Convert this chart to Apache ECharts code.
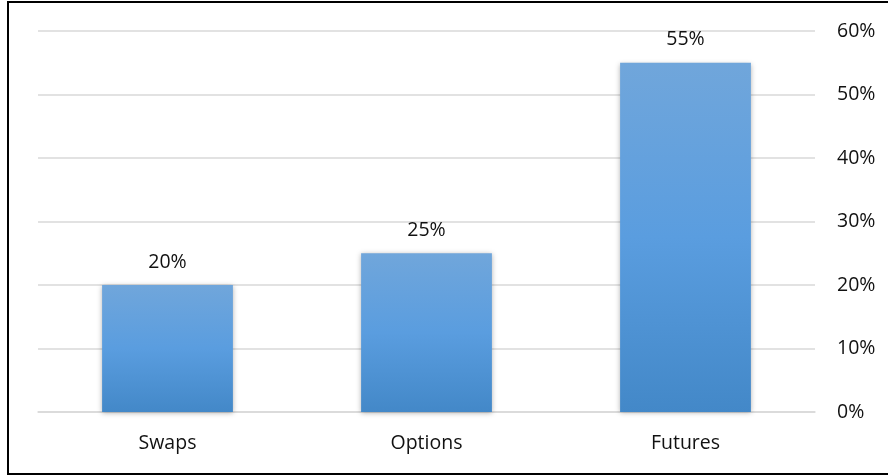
<!DOCTYPE html>
<html>
<head>
<meta charset="utf-8">
<script src="https://cdn.jsdelivr.net/npm/echarts@6/dist/echarts.min.js"></script>
<style>
  html, body { margin: 0; padding: 0; background: #fff; }
  #wrap { position: relative; width: 888px; height: 475px; overflow: hidden; }
  #frame { position: absolute; left: 7px; top: 1px; width: 900px; height: 470px; border: 2px solid #000; }
  #chart { position: absolute; left: 0; top: 0; width: 888px; height: 475px; }
</style>
</head>
<body>
<div id="wrap">
  <div id="frame"></div>
  <div id="chart"></div>
</div>
<script>
const categories = ['Swaps', 'Options', 'Futures'];
const shares = [20, 25, 55];
const tickMax = 60;
const tickStep = 10;

const chart = echarts.init(document.getElementById('chart'));

const barColor = new echarts.graphic.LinearGradient(0, 0, 0, 1, [
  { offset: 0, color: '#70a6db' },
  { offset: 0.5, color: '#5a9ddf' },
  { offset: 1, color: '#4388c8' },
]);

chart.setOption({
  animation: false,
  textStyle: { fontFamily: 'Open Sans, sans-serif' },
  grid: { left: 38, right: 73, top: 31, bottom: 63, outerBoundsMode: 'none' },
  xAxis: {
    type: 'category',
    data: categories,
    axisTick: { show: false },
    axisLine: { lineStyle: { color: '#d9d9d9', width: 1.5 } },
    axisLabel: { color: '#111', fontSize: 19.5, margin: 21 },
  },
  yAxis: {
    type: 'value',
    position: 'right',
    min: 0,
    max: tickMax,
    interval: tickStep,
    axisLine: { show: false },
    axisTick: { show: false },
    axisLabel: { color: '#111', fontSize: 19.5, margin: 22, formatter: '{value}%' },
    splitLine: { lineStyle: { color: '#d9d9d9', width: 1.5 } },
  },
  series: [
    {
      type: 'bar',
      data: shares,
      barWidth: '50.5%',
      itemStyle: {
        color: barColor,
        shadowBlur: 5,
        shadowColor: 'rgba(0,0,0,0.3)',
        shadowOffsetY: 1,
      },
      label: {
        show: true,
        position: 'top',
        distance: 13,
        color: '#111',
        fontSize: 19.5,
        formatter: '{c}%',
      },
    },
  ],
});
</script>
</body>
</html>
